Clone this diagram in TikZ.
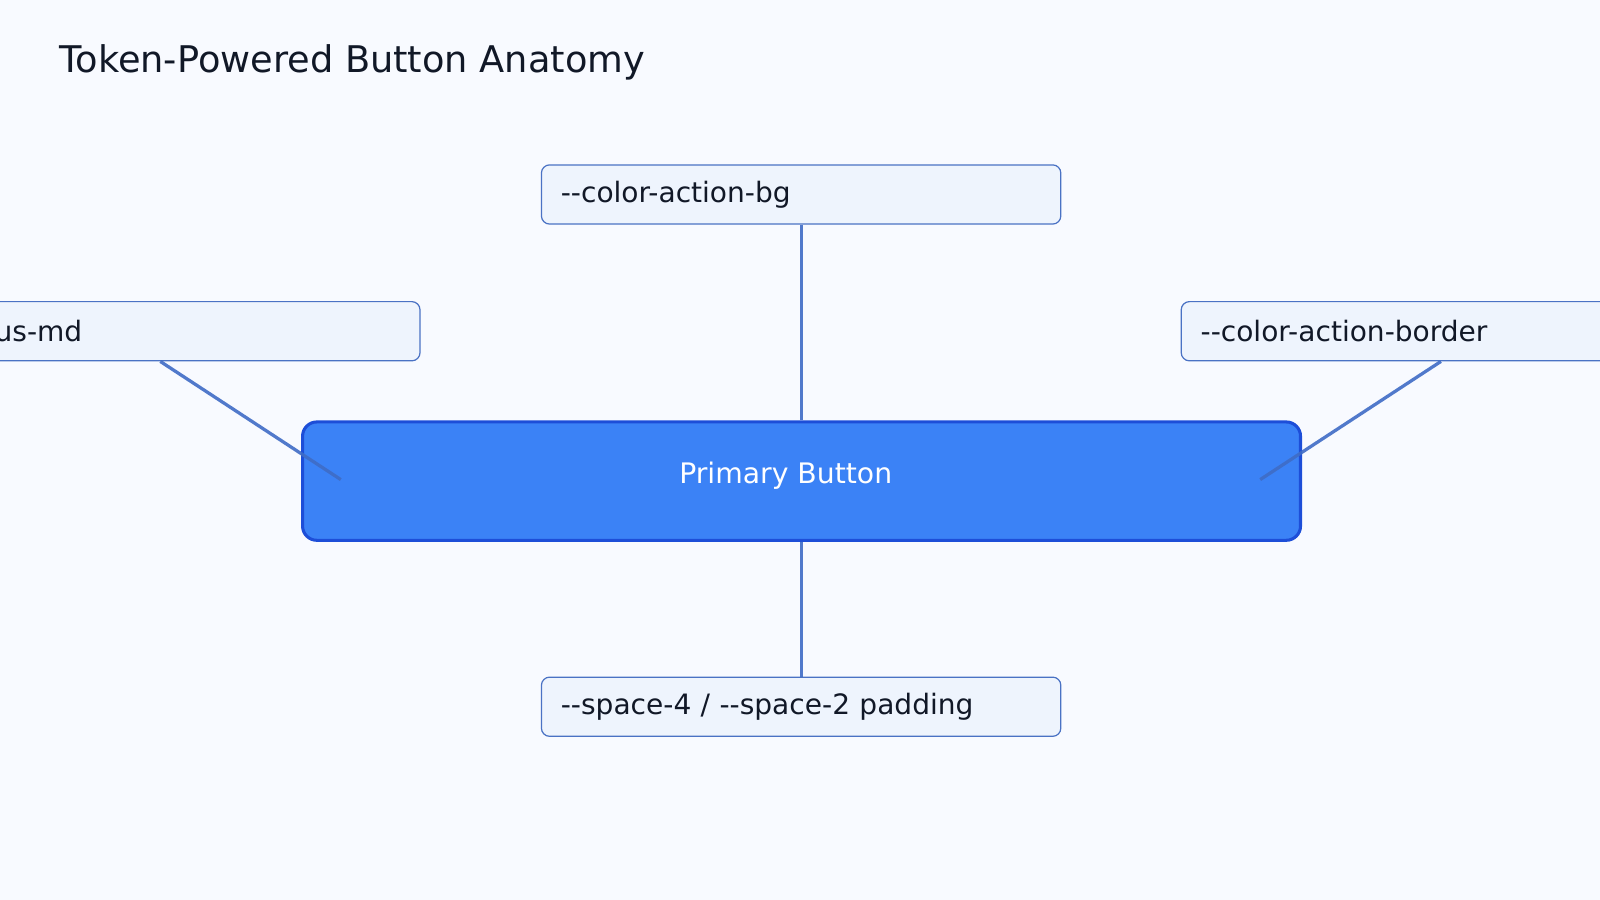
\documentclass[tikz,border=0pt]{standalone}
\usepackage{fontspec}
\setmainfont[Ligatures=TeXOff]{DejaVu Sans}
\definecolor{bgc}{HTML}{F8FAFF}
\definecolor{boxfill}{HTML}{EEF4FD}
\definecolor{boxdraw}{HTML}{4A72C4}
\definecolor{btnfill}{HTML}{3B82F6}
\definecolor{btndraw}{HTML}{1D4ED8}
\definecolor{txt}{HTML}{111827}
\definecolor{wire}{HTML}{3F6CC6}
\begin{document}
\begin{tikzpicture}[x=1pt,y=-1pt,
  tokenbox/.style={draw=boxdraw,line width=1.2pt,fill=boxfill,rounded corners=8pt,minimum width=509pt,minimum height=58pt,text width=471pt,inner xsep=19pt,align=left,anchor=north west,font=\fontsize{27.5}{32}\selectfont,text=txt},
  wireline/.style={draw=wire,line width=3.2pt,opacity=0.9}]
\path[use as bounding box] (0,0) rectangle (1568,882);
\clip (0,0) rectangle (1568,882);
\fill[bgc] (0,0) rectangle (1568,882);
\node[anchor=west,font=\fontsize{36}{40}\selectfont,text=txt,inner sep=0] (title) at (58,61) {Token-Powered Button Anatomy};
\node[draw=btndraw,line width=3pt,fill=btnfill,rounded corners=14pt,minimum width=978pt,minimum height=116pt,anchor=north west] (btn) at (295,412) {};
\node[font=\fontsize{27.7}{32}\selectfont,text=white,inner sep=0] (btnlabel) at (770,466) {Primary Button};
\node[tokenbox] (bg) at (530,161) {--color-action-bg};
\node[tokenbox] (pad) at (530,663) {--space-4 / --space-2 padding};
\node[tokenbox] (rad) at (-98,295) {--radius-md};
\node[tokenbox] (bord) at (1157,295) {--color-action-border};
\coordinate (lend) at (334,470);
\coordinate (rend) at (1235,470);
\draw[wireline] (bg.south) -- (btn.north -| bg.south);
\draw[wireline] (btn.south -| pad.north) -- (pad.north);
\draw[wireline] (rad.south) -- (lend);
\draw[wireline] (bord.south) -- (rend);
\end{tikzpicture}
\end{document}
